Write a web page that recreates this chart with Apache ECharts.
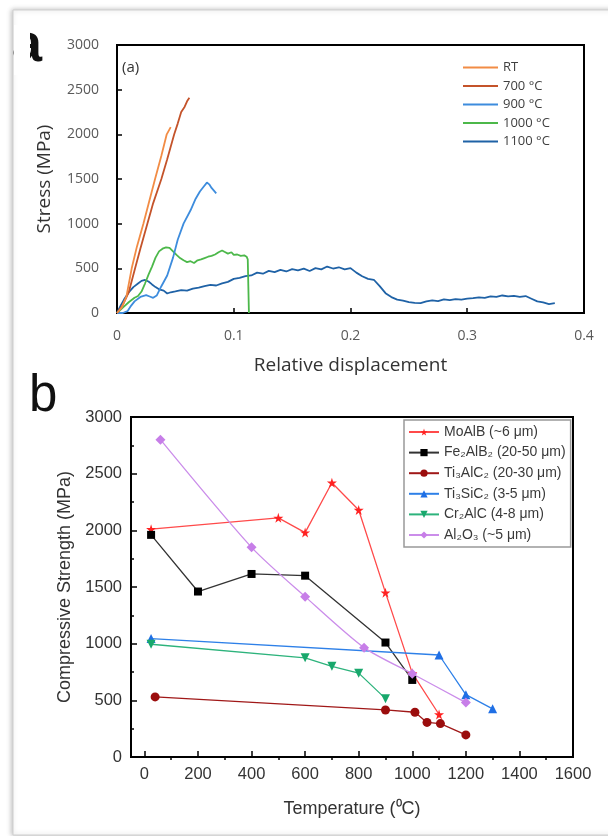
<!DOCTYPE html>
<html>
<head>
<meta charset="utf-8">
<script src="https://cdn.jsdelivr.net/npm/echarts@6/dist/echarts.min.js"></script>
<style>html,body{margin:0;padding:0;background:#fff;}#c{width:608px;height:836px;}</style>
</head>
<body>
<div id="c"></div>
<script>
// ---------- Panel (a): stress vs relative displacement ----------
const aLegend = ['RT', '700 °C', '900 °C', '1000 °C', '1100 °C'];
const aXTicks = [0, 0.1, 0.2, 0.3, 0.4];

const rtX = [0, 0.004, 0.008, 0.0126, 0.017, 0.0226, 0.027, 0.0326, 0.038, 0.0426, 0.046];
const rtY = [0, 60, 180, 500, 740, 1000, 1220, 1500, 1760, 2000, 2080];

const t700X = [0, 0.005, 0.01, 0.0155, 0.02, 0.026, 0.031, 0.038, 0.043, 0.049, 0.052, 0.055, 0.058, 0.06, 0.062];
const t700Y = [0, 90, 230, 500, 720, 1000, 1230, 1500, 1720, 2000, 2120, 2250, 2310, 2370, 2410];

const t900X = [0, 0.005, 0.009, 0.012, 0.015, 0.02, 0.025, 0.028, 0.031, 0.034, 0.038, 0.043, 0.048, 0.052, 0.057, 0.063, 0.067, 0.071, 0.074, 0.077, 0.079, 0.081, 0.083, 0.085];
const t900Y = [0, 0, 20, 80, 130, 180, 200, 185, 170, 195, 300, 420, 620, 820, 1000, 1150, 1270, 1360, 1410, 1460, 1440, 1400, 1370, 1340];

const t1000X = [0, 0.005, 0.01, 0.015, 0.018, 0.021, 0.024, 0.027, 0.03, 0.033, 0.036, 0.039, 0.042, 0.045, 0.048, 0.051, 0.054, 0.057, 0.06, 0.063, 0.066, 0.069, 0.072, 0.075, 0.078, 0.081, 0.084, 0.087, 0.09, 0.092, 0.095, 0.098, 0.1, 0.103, 0.106, 0.109, 0.111, 0.112, 0.1125, 0.113];
const t1000Y = [0, 60, 120, 170, 190, 240, 330, 430, 520, 620, 690, 720, 735, 728, 690, 650, 615, 590, 570, 580, 560, 590, 600, 615, 630, 640, 655, 680, 700, 685, 665, 680, 650, 655, 640, 645, 630, 600, 300, 0];

const t1100X = [0, 0.003, 0.006, 0.01, 0.014, 0.018, 0.021, 0.024, 0.027, 0.03, 0.033, 0.036, 0.04, 0.043, 0.046, 0.05, 0.055, 0.06, 0.065, 0.07, 0.075, 0.08, 0.085, 0.09, 0.095, 0.1, 0.105, 0.11, 0.115, 0.12, 0.125, 0.13, 0.135, 0.14, 0.145, 0.15, 0.155, 0.16, 0.165, 0.17, 0.175, 0.18, 0.185, 0.19, 0.195, 0.2, 0.205, 0.21, 0.215, 0.22, 0.225, 0.23, 0.235, 0.24, 0.245, 0.25, 0.255, 0.26, 0.265, 0.27, 0.275, 0.28, 0.285, 0.29, 0.295, 0.3, 0.305, 0.31, 0.315, 0.32, 0.325, 0.33, 0.335, 0.34, 0.345, 0.35, 0.355, 0.36, 0.365, 0.37, 0.375];
const t1100Y = [0, 80, 150, 230, 290, 330, 360, 370, 352, 320, 290, 265, 250, 218, 232, 242, 256, 250, 272, 284, 302, 314, 308, 332, 348, 382, 392, 412, 420, 452, 440, 472, 458, 482, 465, 492, 478, 496, 470, 502, 488, 520, 498, 512, 488, 502, 452, 412, 382, 372, 300, 222, 178, 150, 138, 122, 114, 110, 130, 142, 134, 152, 144, 156, 150, 160, 166, 176, 170, 186, 180, 196, 186, 192, 180, 190, 160, 130, 118, 100, 110];

// ---------- Panel (b): compressive strength vs temperature ----------
const bLegend = ['MoAlB (~6 μm)', 'Fe₂AlB₂ (20-50 μm)', 'Ti₃AlC₂ (20-30 μm)', 'Ti₃SiC₂ (3-5 μm)', 'Cr₂AlC (4-8 μm)', 'Al₂O₃ (~5 μm)'];
const bXTicks = [0, 200, 400, 600, 800, 1000, 1200, 1400, 1600];
const bXMinor = [100, 300, 500, 700, 900, 1100, 1300, 1500];

const moalbT = [25, 500, 600, 700, 800, 900, 1000, 1100];
const moalbS = [2010, 2110, 1980, 2420, 2180, 1450, 740, 375];
const feT = [25, 200, 400, 600, 900, 1000];
const feS = [1960, 1460, 1615, 1600, 1010, 680];
const ti3alT = [40, 900, 1010, 1055, 1105, 1200];
const ti3alS = [530, 415, 395, 305, 295, 195];
const ti3siT = [25, 1100, 1200, 1300];
const ti3siS = [1045, 900, 550, 425];
const crT = [25, 600, 700, 800, 900];
const crS = [995, 875, 800, 740, 515];
const aloT = [60, 400, 600, 820, 1000, 1200];
const aloS = [2800, 1850, 1415, 965, 735, 480];

const zip = (xs, ys) => xs.map((x, i) => [x, ys[i]]);
const STAR = 'path://M50,0 L61,35 L98,35 L68,57 L79,91 L50,70 L21,91 L32,57 L2,35 L39,35 Z';
const LINEICON = 'path://M0,0 L40,0 L40,2.4 L0,2.4 Z';
const plain = v => String(v);

const fa = '"Open Sans", Lato, sans-serif';
const fb = '"Liberation Sans", Arial, sans-serif';

function aLine(name, xs, ys, color) {
  return { name, type: 'line', xAxisIndex: 0, yAxisIndex: 0, data: zip(xs, ys), symbol: 'none',
    lineStyle: { color, width: 1.8 }, itemStyle: { color }, z: 3 };
}
function bLine(name, xs, ys, color, lineColor, symbol, size, extra) {
  return Object.assign({ name, type: 'line', xAxisIndex: 1, yAxisIndex: 1, data: zip(xs, ys),
    symbol, symbolSize: size, showAllSymbol: true,
    lineStyle: { color: lineColor, width: 1.3 }, itemStyle: { color } }, extra || {});
}

const chart = echarts.init(document.getElementById('c'), null, { renderer: 'canvas' });
chart.setOption({
  backgroundColor: '#fff',
  animation: false,
  grid: [
    { left: 117, top: 45, width: 467, height: 268, show: true, borderColor: '#000', borderWidth: 2, backgroundColor: 'transparent' },
    { left: 131, top: 417, width: 442, height: 340, show: true, borderColor: '#000', borderWidth: 2, backgroundColor: 'transparent' }
  ],
  legend: [
    { data: aLegend.map(n => ({ name: n, icon: LINEICON })), orient: 'vertical', left: 463, top: 61, padding: 0,
      itemWidth: 35, itemHeight: 12, itemGap: 5.5,
      textStyle: { fontFamily: fa, fontSize: 13, color: '#404040' }, selectedMode: false },
    { data: bLegend, orient: 'vertical', left: 404, top: 420, padding: [5, 5, 5, 4], itemWidth: 30, itemHeight: 9, itemGap: 6.6,
      borderColor: '#999', borderWidth: 1.5, backgroundColor: '#fff',
      textStyle: { fontFamily: fb, fontSize: 14, color: '#3a3a3a' }, selectedMode: false }
  ],
  xAxis: [
    { type: 'value', gridIndex: 0, min: 0, max: 0.4, interval: 0.1,
      axisLine: { show: true, onZero: false, lineStyle: { color: '#000', width: 2 } },
      axisTick: { show: true, inside: true, length: 5, lineStyle: { color: '#000', width: 1.5 } },
      axisLabel: { fontFamily: fa, fontSize: 14, color: '#595959', margin: 16, formatter: plain },
      splitLine: { show: false },
      name: 'Relative displacement', nameLocation: 'middle', nameGap: 43,
      nameTextStyle: { fontFamily: fa, fontSize: 19, color: '#333' } },
    { type: 'value', gridIndex: 1, min: -50, max: 1600,
      axisLine: { show: true, onZero: false, lineStyle: { color: '#000', width: 2 } },
      axisTick: { show: true, inside: true, length: 6, customValues: bXTicks, lineStyle: { color: '#000', width: 1.5 } },
      axisLabel: { fontFamily: fb, fontSize: 16.5, color: '#333', margin: 9, customValues: bXTicks, formatter: plain },
      splitLine: { show: false },
      name: 'Temperature (⁰C)', nameLocation: 'middle', nameGap: 43,
      nameTextStyle: { fontFamily: fb, fontSize: 18, color: '#333' } },
    { type: 'value', gridIndex: 1, min: -50, max: 1600,
      axisLine: { show: false },
      axisTick: { show: true, inside: true, length: 3, customValues: bXMinor, lineStyle: { color: '#000', width: 1.5 } },
      axisLabel: { show: false, customValues: bXMinor },
      splitLine: { show: false } }
  ],
  yAxis: [
    { type: 'value', gridIndex: 0, min: 0, max: 3000, interval: 500,
      axisLine: { show: true, onZero: false, lineStyle: { color: '#000', width: 2 } },
      axisTick: { show: true, inside: true, length: 5, lineStyle: { color: '#000', width: 1.5 } },
      axisLabel: { fontFamily: fa, fontSize: 14, color: '#595959', margin: 18, formatter: plain },
      splitLine: { show: false },
      name: 'Stress (MPa)', nameLocation: 'middle', nameGap: 63,
      nameTextStyle: { fontFamily: fa, fontSize: 19, color: '#333' } },
    { type: 'value', gridIndex: 1, min: 0, max: 3000, interval: 500,
      axisLine: { show: true, onZero: false, lineStyle: { color: '#000', width: 2 } },
      axisTick: { show: true, inside: true, length: 6, lineStyle: { color: '#000', width: 1.5 } },
      minorTick: { show: true, splitNumber: 2, length: 3, lineStyle: { color: '#000', width: 1.5 } },
      axisLabel: { fontFamily: fb, fontSize: 16.5, color: '#333', margin: 9, formatter: plain },
      splitLine: { show: false }, minorSplitLine: { show: false },
      name: 'Compressive Strength (MPa)', nameLocation: 'middle', nameGap: 53,
      nameTextStyle: { fontFamily: fb, fontSize: 18, color: '#333' } }
  ],
  series: [
    aLine(aLegend[4], t1100X, t1100Y, '#1F62A6'),
    aLine(aLegend[3], t1000X, t1000Y, '#4CB84A'),
    aLine(aLegend[2], t900X, t900Y, '#3D8CDD'),
    aLine(aLegend[1], t700X, t700Y, '#C4532A'),
    aLine(aLegend[0], rtX, rtY, '#F28C45'),
    bLine(bLegend[0], moalbT, moalbS, '#FF2222', '#FF4A4A', STAR, 10),
    bLine(bLegend[1], feT, feS, '#000', '#333', 'rect', 8),
    bLine(bLegend[2], ti3alT, ti3alS, '#9B0D0D', '#A01818', 'circle', 9),
    bLine(bLegend[3], ti3siT, ti3siS, '#1F6FE5', '#2E80E8', 'triangle', 9),
    bLine(bLegend[4], crT, crS, '#18A86C', '#2DB37C', 'triangle', 9, { symbolRotate: 180 }),
    bLine(bLegend[5], aloT, aloS, '#C77EE8', '#CB8DEA', 'diamond', 10, { smooth: 0.25 })
  ],
  graphic: [
    { type: 'rect', shape: { x: 13, y: 10, width: 620, height: 825 }, silent: true, z: -10,
      style: { fill: '#fff', stroke: '#cfcfcf', lineWidth: 1, shadowBlur: 5, shadowColor: 'rgba(0,0,0,0.25)', shadowOffsetX: -1 } },
    { type: 'text', x: 12, y: 46, z: 5, silent: true,
      style: { text: 'a', font: 'bold 54px "Liberation Sans", Arial, sans-serif', fill: '#111', textVerticalAlign: 'middle' } },
    { type: 'rect', shape: { x: 14, y: 25, width: 16, height: 50 }, z: 6, silent: true, style: { fill: '#fff' } },
    { type: 'text', x: 29, y: 397, z: 5, silent: true,
      style: { text: 'b', font: '51px "Liberation Sans", Arial, sans-serif', fill: '#111', textVerticalAlign: 'middle' } },
    { type: 'text', x: 122, y: 68, z: 5, silent: true,
      style: { text: '(a)', font: '15px "Open Sans", sans-serif', fill: '#333', textVerticalAlign: 'middle' } }
  ]
});
</script>
</body>
</html>
